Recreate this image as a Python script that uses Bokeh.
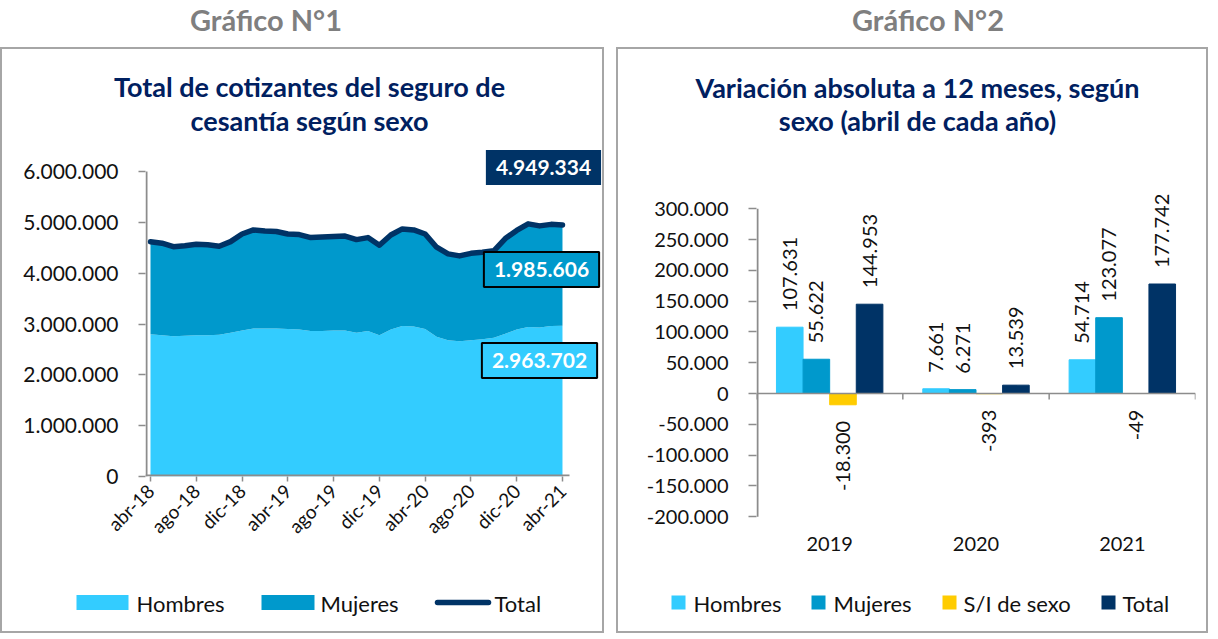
from math import pi
from bokeh.plotting import figure
from bokeh.models import (Range1d, FixedTicker, Label, LabelSet, Span, Div, ColumnDataSource)
from bokeh.layouts import row, column
from bokeh.embed import file_html
from bokeh.resources import INLINE
from bokeh.transform import dodge
from bokeh.core.properties import value

# ---------------- data ----------------
meses = ["abr-18", "may-18", "jun-18", "jul-18", "ago-18", "sep-18", "oct-18", "nov-18",
         "dic-18", "ene-19", "feb-19", "mar-19", "abr-19", "may-19", "jun-19", "jul-19",
         "ago-19", "sep-19", "oct-19", "nov-19", "dic-19", "ene-20", "feb-20", "mar-20",
         "abr-20", "may-20", "jun-20", "jul-20", "ago-20", "sep-20", "oct-20", "nov-20",
         "dic-20", "ene-21", "feb-21", "mar-21", "abr-21"]
hombres = [2800000, 2780000, 2760000, 2770000, 2780000, 2780000, 2790000, 2830000, 2870000,
           2910000, 2910000, 2910000, 2900000, 2890000, 2860000, 2860000, 2870000, 2870000,
           2830000, 2860000, 2780000, 2890000, 2960000, 2950000, 2900000, 2750000, 2680000,
           2660000, 2680000, 2700000, 2730000, 2810000, 2890000, 2940000, 2930000, 2960000,
           2963702]
mujeres = [1820000, 1810000, 1760000, 1770000, 1790000, 1780000, 1740000, 1790000, 1900000,
           1940000, 1920000, 1910000, 1870000, 1870000, 1840000, 1850000, 1850000, 1860000,
           1830000, 1840000, 1770000, 1860000, 1910000, 1900000, 1870000, 1760000, 1700000,
           1680000, 1710000, 1710000, 1710000, 1870000, 1950000, 2030000, 2000000, 2000000,
           1985606]
total = [4620000, 4590000, 4520000, 4540000, 4570000, 4560000, 4530000, 4620000, 4770000,
         4850000, 4830000, 4820000, 4770000, 4760000, 4700000, 4710000, 4720000, 4730000,
         4660000, 4700000, 4550000, 4750000, 4870000, 4850000, 4770000, 4510000, 4380000,
         4340000, 4390000, 4410000, 4440000, 4680000, 4840000, 4970000, 4930000, 4960000,
         4949334]

anios = ["2019", "2020", "2021"]
var_hombres = [107631, 7661, 54714]
var_mujeres = [55622, 6271, 123077]
var_si = [-18300, -393, -49]
var_total = [144953, 13539, 177742]

# ---------------- style ----------------
FONT = "Lato"
NAVY_T = "#002060"
C_H, C_M, C_SI, C_T = "#33CCFF", "#0099CC", "#FFCC00", "#003366"
AXIS = "#8c8c8c"
TXT = "#111111"
BORDER = {"border": "2px solid #a6a6a6"}
TOP = 50            # page y of the boxed area's inner top
TH, CH, LH = 92, 425, 65   # title strip, chart, legend strip heights
CHART_TOP = TOP + TH
LEG_TOP = CHART_TOP + CH


def fmt(v):
    return f"{int(v):,}".replace(",", ".")


def no_align(fig):
    # keep each canvas' frame where it is set (no frame alignment inside columns)
    if "frame_align" in fig.properties():
        fig.frame_align = False
    return fig


def style_axes(p, size):
    for ax in (p.xaxis[0], p.yaxis[0]):
        ax.axis_line_color = None
        ax.major_tick_line_color = AXIS
        ax.major_tick_line_width = 1.5
        ax.minor_tick_line_color = None
        ax.major_tick_in = 0
        ax.major_label_text_font = FONT
        ax.major_label_text_font_size = size
        ax.major_label_text_color = TXT
    p.xgrid.visible = False
    p.ygrid.visible = False
    p.outline_line_color = None


def strip(width, height):
    """A plain canvas in pixel units (y downwards) for titles and legends."""
    return no_align(figure(width=width, height=height, x_range=Range1d(0, width),
                           y_range=Range1d(height, 0), x_axis_type=None, y_axis_type=None,
                           output_backend="svg", toolbar_location=None, min_border=0,
                           outline_line_color=None))


def title_strip(width, ox, lines):
    s = strip(width, TH)
    s.text(x=[x - ox for x, _, _ in lines], y=[y - TOP for _, y, _ in lines],
           text=[t for _, _, t in lines], text_align="center", text_baseline="middle",
           text_font=value(FONT), text_font_size="27px", text_font_style="bold",
           text_color=NAVY_T)
    return s


def legend_strip(width, ox, items):
    s = strip(width, LH)
    for kind, x0, x1, tx, label, color in items:
        cy = 603 - LEG_TOP
        if kind == "line":
            s.segment(x0=[x0 - ox], x1=[x1 - ox], y0=[cy], y1=[cy], line_color=color,
                      line_width=5.5, line_cap="round")
        else:
            h = 7.5 if kind == "area" else 7
            s.quad(left=[x0 - ox], right=[x1 - ox], top=[cy - h], bottom=[cy + h],
                   fill_color=color, line_color=None)
        s.text(x=[tx - ox], y=[cy + 1], text=[label], text_align="left",
               text_baseline="middle", text_font=value(FONT), text_font_size="22px",
               text_color=TXT)
    return s


# ================= Chart 1 =================
W1 = 600
OX1 = 3                                   # page x of the canvas
PX_L1, PX_R1, PX_T1, PX_B1 = 146, 602, 146, 477   # frame edges (page px)
PPU1 = 11.444                             # px per month
PPM1 = 50.833 / 1000000                   # px per unit value
X1 = (-(151 - PX_L1) / PPU1, (PX_R1 - 151) / PPU1)
Y1 = (0, (PX_B1 - PX_T1) / PPM1)


def d1x(px):
    return X1[0] + (px - PX_L1) / PPU1


def d1y(py):
    return (PX_B1 - py) / PPM1


p1 = no_align(figure(width=W1, height=CH, x_range=Range1d(*X1), y_range=Range1d(*Y1),
                     output_backend="svg", toolbar_location=None,
                     min_border_left=PX_L1 - OX1, min_border_right=OX1 + W1 - PX_R1,
                     min_border_top=PX_T1 - CHART_TOP, min_border_bottom=LEG_TOP - PX_B1))

src1 = ColumnDataSource(dict(x=list(range(len(meses))), hombres=hombres,
                             mujeres=mujeres, total=total))
p1.varea_stack(["hombres", "mujeres"], x="x", source=src1, color=[C_H, C_M])
p1.line("x", "total", source=src1, line_color=C_T, line_width=5.5,
        line_join="round", line_cap="round")

yt1 = list(range(0, 6000001, 1000000))
p1.segment(x0=[d1x(PX_L1 + 1)], x1=[d1x(PX_L1 + 1)], y0=[yt1[0]], y1=[yt1[-1]],
           line_color=AXIS, line_width=2)
p1.segment(x0=[X1[0]], x1=[d1x(570)], y0=[d1y(PX_B1 - 1)], y1=[d1y(PX_B1 - 1)],
           line_color=AXIS, line_width=2)

style_axes(p1, "21px")
tick_idx = list(range(0, len(meses), 4))
p1.xaxis.ticker = FixedTicker(ticks=tick_idx)
p1.xaxis.major_label_overrides = {i: meses[i] for i in tick_idx}
p1.xaxis.major_label_orientation = pi / 4
p1.xaxis.major_label_text_font_size = "19px"
p1.xaxis.major_tick_out = 5
p1.xaxis.major_label_standoff = 6
p1.yaxis.ticker = FixedTicker(ticks=yt1)
p1.yaxis.major_label_overrides = {v: fmt(v) for v in yt1}
p1.yaxis.major_tick_out = 7
p1.yaxis.major_label_standoff = 20

for val, cx, cy, fill, border in ((total[-1], 544, 168, C_T, None),
                                  (mujeres[-1], 542, 270, C_M, "#000000"),
                                  (hombres[-1], 540, 361, C_H, "#000000")):
    p1.add_layout(Label(x=d1x(cx), y=d1y(cy), text=fmt(val), text_align="center",
                        text_baseline="middle", text_font=FONT, text_font_size="21px",
                        text_font_style="bold", text_color="white",
                        background_fill_color=fill, border_line_color=border,
                        border_line_width=2,
                        padding={"left": 10, "right": 10, "top": 10, "bottom": 10}))

t1 = title_strip(W1, OX1, [(310, 87, "Total de cotizantes del seguro de"),
                           (310, 121, "cesantía según sexo")])
lg1 = legend_strip(W1, OX1, [("area", 77, 129, 137, "Hombres", C_H),
                             ("area", 262, 315, 321, "Mujeres", C_M),
                             ("line", 438, 489, 495, "Total", C_T)])

# ================= Chart 2 =================
W2 = 588
OX2 = 619
PX_L2, PX_R2, PX_T2, PX_B2 = 757, 1196, 186, 518
PPU2 = 146.33                             # px per year category
PPV2 = 30.8 / 50000                       # px per unit value
ZERO2 = 394
X2 = (-0.5, 2.5)
Y2 = (-(PX_B2 - ZERO2) / PPV2, (ZERO2 - PX_T2) / PPV2)


def d2x(px):
    return X2[0] + (px - PX_L2) / PPU2


p2 = no_align(figure(width=W2, height=CH, x_range=Range1d(*X2), y_range=Range1d(*Y2),
                     output_backend="svg", toolbar_location=None,
                     min_border_left=PX_L2 - OX2, min_border_right=OX2 + W2 - PX_R2,
                     min_border_top=PX_T2 - CHART_TOP, min_border_bottom=LEG_TOP - PX_B2))

src2 = ColumnDataSource(dict(x=list(range(len(anios))), h=var_hombres, m=var_mujeres,
                             si=var_si, t=var_total))
series = [("h", "Hombres", C_H, var_hombres), ("m", "Mujeres", C_M, var_mujeres),
          ("si", "S/I de sexo", C_SI, var_si), ("t", "Total", C_T, var_total)]
bw = 1 / 5.5
lab_off = 16 / PPV2
pos = dict(x=[], y=[], t=[])
neg = dict(x=[], y=[], t=[])
for k, (col, name, color, vals) in enumerate(series):
    off = (k - 1.5) * bw
    p2.vbar(x=dodge("x", off), top=col, bottom=0, width=bw, fill_color=color,
            line_color=color, source=src2)
    for i, v in enumerate(vals):
        d = pos if v >= 0 else neg
        d["x"].append(i + off)
        d["y"].append(v + lab_off if v >= 0 else v - lab_off)
        d["t"].append(fmt(v))

for d, align in ((pos, "left"), (neg, "right")):
    p2.add_layout(LabelSet(x="x", y="y", text="t", source=ColumnDataSource(d),
                           angle=pi / 2, text_align=align, text_baseline="middle",
                           text_font=value(FONT), text_font_size="20px", text_color=TXT))

yt2 = list(range(-200000, 300001, 50000))
p2.add_layout(Span(location=0, dimension="width", line_color=AXIS, line_width=1.5))
bounds = [i - 0.5 for i in range(len(anios) + 1)]
p2.segment(x0=bounds, x1=bounds, y0=[0] * len(bounds), y1=[-6 / PPV2] * len(bounds),
           line_color=AXIS, line_width=1.5)
p2.segment(x0=[d2x(PX_L2 + 1)], x1=[d2x(PX_L2 + 1)], y0=[yt2[0]], y1=[yt2[-1]],
           line_color=AXIS, line_width=2)

style_axes(p2, "20px")
p2.xaxis.ticker = FixedTicker(ticks=list(range(len(anios))))
p2.xaxis.major_label_overrides = {i: a for i, a in enumerate(anios)}
p2.xaxis.major_tick_line_color = None
p2.xaxis.major_tick_out = 0
p2.xaxis.major_label_standoff = 19
p2.xaxis.major_label_text_font_size = "20px"
p2.yaxis.ticker = FixedTicker(ticks=yt2)
p2.yaxis.major_label_overrides = {v: fmt(v) for v in yt2}
p2.yaxis.major_tick_out = 8
p2.yaxis.major_label_standoff = 20

t2 = title_strip(W2, OX2, [(918, 88, "Variación absoluta a 12 meses, según"),
                           (918, 121, "sexo (abril de cada año)")])
lg2 = legend_strip(W2, OX2, [("bar", 672, 686, 694, "Hombres", C_H),
                             ("bar", 812, 826, 834, "Mujeres", C_M),
                             ("bar", 943, 957, 964, "S/I de sexo", C_SI),
                             ("bar", 1102, 1116, 1123, "Total", C_T)])

# ================= headers & layout =================
HDR = ("<div style=\"font-family:Lato;font-weight:bold;font-size:29px;color:#7f7f7f;"
       "line-height:30px;text-align:center;box-sizing:border-box;width:{w}px;{pad}\">{t}</div>")
h1 = Div(text=HDR.format(w=600, pad="padding-right:78px;", t="Gráfico N°1"), width=600, height=37)
h2 = Div(text=HDR.format(w=592, pad="padding-left:22px;", t="Gráfico N°2"), width=592, height=37)

box1 = column(t1, p1, lg1, spacing=0, styles=BORDER)
box2 = column(t2, p2, lg2, spacing=0, styles=BORDER)
layout = row(column(h1, box1, spacing=0), column(h2, box2, spacing=0), spacing=6)

with open("out.html", "w") as f:
    f.write(file_html(layout, INLINE))
